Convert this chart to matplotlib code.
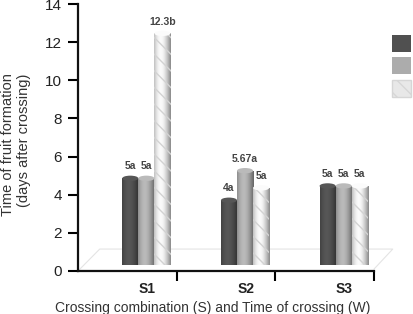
import numpy as np
import matplotlib
matplotlib.use("Agg")
import matplotlib.pyplot as plt
from matplotlib.patches import Ellipse, Patch
from matplotlib.colors import to_rgb

plt.rcParams['font.family'] = ['Liberation Sans', 'DejaVu Sans']

# ---------------------------
# Daten
# ---------------------------
gruppen = ["S1", "S2", "S3"]
w1 = [5.0, 3.85, 4.6]     # dunkle Zylinder
w2 = [5.0, 5.4, 4.6]      # hellgraue Zylinder
w3 = [12.6, 4.5, 4.6]     # marmorierte Zylinder
lab_w1 = ["5a", "4a", "5a"]
lab_w2 = ["5a", "5.67a", "5a"]
lab_w3 = ["12.3b", "5a", "5a"]
yticks = [0, 2, 4, 6, 8, 10, 12, 14]

serien = [w1, w2, w3]
labels = [lab_w1, lab_w2, lab_w3]
farben = ["#505050", "#acacac", "#e8e8e8"]

W, H = 413, 314
fig = plt.figure(figsize=(W / 100, H / 100), dpi=100)
ax = fig.add_axes([78 / W, (H - 271) / H, (374 - 78) / W, (271 - 4) / H])

breite = 0.163
boden = 0.3


def zylinder(x, top, farbe, marmor=False):
    """Zylinder mit Schattierung (Verlauf) und Deckel."""
    cap = 0.28
    h = top - cap / 2 - boden
    bar = ax.bar(x, h, width=breite, bottom=boden, color=farbe,
                 linewidth=0, zorder=3)[0]
    t = np.linspace(0, 1, 64)
    f = 0.68 + 0.40 * np.cos((t - 0.4) * np.pi * 0.95)
    rgb = np.clip(np.outer(f, to_rgb(farbe)), 0, 1)
    img = ax.imshow(rgb[np.newaxis, :, :],
                    extent=[x - breite / 2, x + breite / 2, boden, top - cap / 2],
                    aspect='auto', zorder=4, interpolation='bilinear')
    img.set_clip_path(bar)
    if marmor:
        ax.bar(x, h, width=breite, bottom=boden, color='none',
               edgecolor='#d2d2d2', hatch='\\\\', linewidth=0, zorder=5)
    deckel = np.clip(np.array(to_rgb(farbe)) * 1.08, 0, 1)
    ax.add_patch(Ellipse((x, top - cap / 2), breite, cap, facecolor=deckel,
                         edgecolor='none', zorder=6))


for i, g in enumerate(gruppen):
    for k in range(3):
        x = i + 0.53 + k * breite
        top = serien[k][i]
        zylinder(x, top, farben[k], marmor=(k == 2))
        ax.annotate(labels[k][i], (x, top), xytext=(0, 3),
                    textcoords='offset points', ha='center', va='bottom',
                    fontsize=7.5, fontweight='bold', color='#444444', zorder=7)

# Boden (3D-Effekt)
ax.plot([0, 0.22, 3.19, 3.0], [0, 1.15, 1.15, 0.1], color='#e4e4e4',
        lw=0.8, clip_on=False, zorder=1)

ax.set_xlim(0, 3)
ax.set_ylim(0, 14)
ax.set_yticks(yticks)
ax.set_xticks([i + 0.7 for i in range(3)])
ax.set_xticklabels(gruppen, fontsize=10, fontweight='bold', color='#222222')
ax.set_xticks([1, 2, 3], minor=True)
ax.tick_params(axis='x', which='major', length=0, pad=8)
ax.tick_params(axis='x', which='minor', length=7.5, width=1.5, direction='out')
ax.tick_params(axis='y', length=7.5, width=1.5, pad=4, labelsize=11,
               labelcolor='#222222')
for s in ['top', 'right']:
    ax.spines[s].set_visible(False)
for s in ['left', 'bottom']:
    ax.spines[s].set_linewidth(1.6)
    ax.spines[s].set_color('#111111')

fig.text(16 / W, 1 - 145 / H, "Time of fruit formation\n(days after crossing)",
         rotation=90, ha='center', va='center', multialignment='right',
         fontsize=10.5, color='#333333', linespacing=1.1)
fig.text(213 / W, 1 - 308 / H, "Crossing combination (S) and Time of crossing (W)",
         ha='center', va='center', fontsize=10, color='#333333')

# Legende (Texte liegen ausserhalb des Bildes)
handles = [Patch(facecolor=farben[0]), Patch(facecolor=farben[1]),
           Patch(facecolor=farben[2], edgecolor='#d6d6d6', hatch='\\\\')]
fig.legend(handles, ["", "", ""], loc='upper left',
           bbox_to_anchor=(392 / W, 1 - 35 / H), frameon=False,
           borderpad=0, borderaxespad=0, handlelength=1.4, handleheight=1.5,
           labelspacing=0.4, handletextpad=0, fontsize=10)

fig.savefig("out.png", dpi=100)
